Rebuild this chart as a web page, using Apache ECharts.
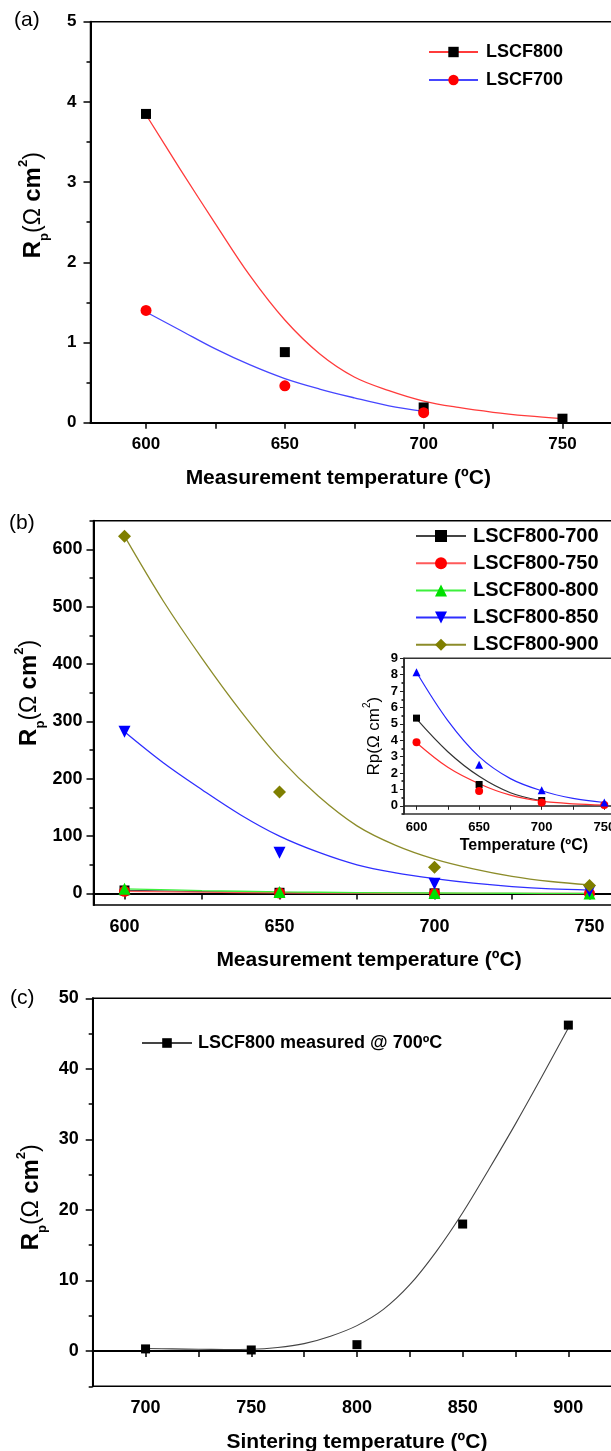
<!DOCTYPE html>
<html>
<head>
<meta charset="utf-8">
<script src="https://cdn.jsdelivr.net/npm/echarts@6/dist/echarts.min.js"></script>
<style>
  html, body { margin: 0; padding: 0; background: #fff; }
  #main { width: 611px; height: 1451px; }
</style>
</head>
<body>
<div id="main"></div>
<script>
// ---- panel (a) : measured points ----
var tempA = [600, 650, 700, 750];
var lscf800 = [3.85, 0.88, 0.19, 0.05];
var lscf700 = [1.40, 0.46, 0.125];
// fitted curves
var fitTempA = [600, 612.5, 625, 637.5, 650, 662.5, 675, 687.5, 700, 712.5, 725, 737.5, 750];
var fit800 = [3.84, 3.15, 2.48, 1.83, 1.28, 0.86, 0.57, 0.40, 0.27, 0.19, 0.13, 0.085, 0.05];
var fit700 = [1.38, 1.15, 0.92, 0.72, 0.55, 0.42, 0.31, 0.21, 0.14];

// ---- panel (b) ----
var tempB = [600, 650, 700, 750];
var s700 = [5.35, 1.3, 0.32];
var s750 = [3.88, 0.9, 0.2, 0.05];
var s800 = [8.15, 2.5, 0.95, 0.2];
var s850 = [282, 71, 17, 4];
var s900 = [623, 177, 46, 14];
var fitTempB = [600, 612.5, 625, 637.5, 650, 662.5, 675, 687.5, 700, 712.5, 725, 737.5, 750];
var fit850 = [282, 228, 181, 137, 100, 72, 50, 36, 26, 18, 12, 8, 6];
var fit900 = [623, 510, 410, 318, 236, 170, 118, 84, 60, 43, 30, 21, 15];
var fitTempS = [600, 625, 650, 675, 700, 725, 750];
var fitS700 = [5.3, 3.3, 1.8, 0.8, 0.3];
var fitS750 = [3.85, 2.35, 1.35, 0.65, 0.28, 0.12, 0.05];
var fitS800 = [8.15, 5.2, 3.0, 1.66, 0.92, 0.45, 0.2];

// ---- panel (c) ----
var tempC = [700, 750, 800, 850, 900];
var rpC = [0.3, 0.15, 0.9, 18, 46.2];
var fitTempC = [700, 712.5, 725, 737.5, 750, 762.5, 775, 787.5, 800, 812.5, 825, 837.5, 850, 862.5, 875, 887.5, 900];
var fitC = [0.35, 0.3, 0.25, 0.22, 0.25, 0.5, 1.05, 2.1, 3.6, 5.9, 9.4, 14.1, 19.6, 25.8, 32.2, 38.9, 45.8];

function pairs(xs, ys) {
	var out = [];
	for (var i = 0; i < ys.length; i++) {
		out.push([xs[i], ys[i]]);
	}
	return out;
}
function range(a, b, step) {
	var out = [];
	for (var v = a; v <= b + 1e-9; v += step) {
		out.push(Math.round(v * 100) / 100);
	}
	return out;
}

var FONT = 'Liberation Sans, Arial, sans-serif';
var SMOOTH = 0.35;

function rpName(size) {
	return {
		r: { fontSize: size, fontWeight: 'bold', fontFamily: FONT, color: '#000', lineHeight: 34 },
		s: { fontSize: 13, fontWeight: 'bold', fontFamily: FONT, color: '#000', verticalAlign: 'bottom', lineHeight: 14 },
		n: { fontSize: size - 1, fontFamily: FONT, color: '#000', lineHeight: 34 },
		u: { fontSize: 13, fontWeight: 'bold', fontFamily: FONT, color: '#000', verticalAlign: 'top', lineHeight: 14 }
	};
}

function xAxisCfg(grid, min, max, labels, ticks, name, fs, namePad) {
	return {
		type: 'value', gridIndex: grid, min: min, max: max, position: 'bottom',
		axisLine: { lineStyle: { color: '#000', width: 2 } },
		axisTick: { customValues: ticks, length: 6, lineStyle: { color: '#000', width: 1.5 } },
		axisLabel: { customValues: labels, margin: 13, color: '#000', fontSize: fs, fontWeight: 'bold', fontFamily: FONT },
		splitLine: { show: false },
		name: name, nameLocation: 'middle', nameGap: 45, nameMoveOverlap: false,
		nameTextStyle: { color: '#000', fontSize: 21, fontWeight: 'bold', fontFamily: FONT, padding: namePad }
	};
}
function minorY(grid, min, max, ticks, len) {
	return {
		type: 'value', gridIndex: grid, min: min, max: max, position: 'left',
		axisLine: { show: false }, axisLabel: { show: false }, splitLine: { show: false },
		axisTick: { show: true, customValues: ticks, length: len, lineStyle: { color: '#000', width: 1.5 } }
	};
}
// fitted curve (line) - legend icon draws its line + symbol
function fitLine(name, xi, xs, ys, sym, size, fill, stroke, rot) {
	return {
		name: name, type: 'line', xAxisIndex: xi, yAxisIndex: xi, data: pairs(xs, ys), smooth: SMOOTH,
		showSymbol: false, symbol: sym, symbolSize: size, symbolRotate: rot || 0,
		itemStyle: { color: fill, opacity: 1 }, lineStyle: { color: stroke, width: 1.3 }, z: 2
	};
}
function points(name, xi, xs, ys, sym, size, fill, rot, z) {
	return {
		name: name, type: 'scatter', xAxisIndex: xi, yAxisIndex: xi, data: pairs(xs, ys),
		symbol: sym, symbolSize: size, symbolRotate: rot || 0,
		itemStyle: { color: fill, opacity: 1 }, z: z || 3
	};
}

var option = {
	backgroundColor: '#fff',
	animation: false,
	grid: [
		{ left: 90.5, top: 21.7, width: 527.5, height: 401, show: true, borderColor: '#000', borderWidth: 1.5, outerBoundsMode: 'none' },
		{ left: 93.5, top: 520.7, width: 527, height: 384.3, show: true, borderColor: '#000', borderWidth: 1.5, outerBoundsMode: 'none' },
		{ left: 404, top: 658.3, width: 212.8, height: 155.7, show: true, backgroundColor: '#fff', borderColor: '#333', borderWidth: 1.5, z: 5, outerBoundsMode: 'none' },
		{ left: 92.7, top: 998.3, width: 528.5, height: 388, show: true, borderColor: '#000', borderWidth: 1.5, outerBoundsMode: 'none' }
	],
	xAxis: [
		xAxisCfg(0, 580, 770, [600, 650, 700, 750], range(600, 750, 25), 'Measurement temperature (ºC)', 17, [0, 32, 0, 0]),
		xAxisCfg(1, 590, 760, [600, 650, 700, 750], range(600, 750, 25), 'Measurement temperature (ºC)', 18, [0, 0, 0, 24]),
		{
			type: 'value', gridIndex: 2, min: 590, max: 760, position: 'bottom', z: 6,
			axisLine: { lineStyle: { color: '#222', width: 1.5 } },
			axisTick: { customValues: range(600, 750, 25), length: 4, lineStyle: { color: '#222' } },
			axisLabel: { customValues: [600, 650, 700, 750], margin: 7, color: '#000', fontSize: 13, fontWeight: 'bold', fontFamily: FONT },
			splitLine: { show: false },
			name: 'Temperature (ºC)', nameLocation: 'middle', nameGap: 24, nameMoveOverlap: false,
			nameTextStyle: { color: '#000', fontSize: 16, fontWeight: 'bold', fontFamily: FONT, padding: [0, 0, 0, 27] }
		},
		xAxisCfg(3, 675, 925, [700, 750, 800, 850, 900], range(700, 900, 25), 'Sintering temperature (ºC)', 18, [0, 0, 0, 0])
	],
	yAxis: [
		{
			type: 'value', gridIndex: 0, min: 0, max: 5, interval: 1, position: 'left',
			axisLine: { show: true, lineStyle: { color: '#000', width: 2 } },
			axisTick: { show: true, length: 7, lineStyle: { color: '#000', width: 1.5 } },
			minorTick: { show: true, splitNumber: 2, length: 4, lineStyle: { color: '#000', width: 1.5 } },
			axisLabel: { margin: 14, color: '#000', fontSize: 17, fontWeight: 'bold', fontFamily: FONT },
			splitLine: { show: false },
			name: '{r|R}{s|p}{n|(Ω }{r|cm}{u|2}{n|)}', nameLocation: 'middle', nameRotate: 90, nameGap: 40, nameMoveOverlap: false,
			nameTextStyle: { rich: rpName(24), padding: [0, 0, 0, 34] }
		},
		{
			type: 'value', gridIndex: 1, min: -20, max: 650, position: 'left',
			axisLine: { show: true, lineStyle: { color: '#000', width: 2 } },
			axisTick: { show: true, customValues: range(0, 600, 100), length: 7, lineStyle: { color: '#000', width: 1.5 } },
			axisLabel: { customValues: range(0, 600, 100), margin: 11, color: '#000', fontSize: 18, fontWeight: 'bold', fontFamily: FONT },
			splitLine: { show: false },
			name: '{r|R}{s|p}{n|(Ω }{r|cm}{u|2}{n|)}', nameLocation: 'middle', nameRotate: 90, nameGap: 47, nameMoveOverlap: false,
			nameTextStyle: { rich: rpName(24), padding: [0, 0, 0, 40] }
		},
		{
			type: 'value', gridIndex: 2, min: -0.5, max: 9, position: 'left', z: 6,
			axisLine: { show: true, lineStyle: { color: '#222', width: 1.5 } },
			axisTick: { show: true, customValues: range(0, 9, 1), length: 4, lineStyle: { color: '#222' } },
			axisLabel: { customValues: range(0, 9, 1), margin: 6, color: '#000', fontSize: 13, fontWeight: 'bold', fontFamily: FONT },
			splitLine: { show: false },
			name: 'Rp(Ω cm{u|2})', nameLocation: 'middle', nameRotate: 90, nameGap: 18, nameMoveOverlap: false,
			nameTextStyle: { color: '#000', fontSize: 17, fontFamily: FONT, lineHeight: 24,
				rich: { u: { fontSize: 10, fontFamily: FONT, color: '#000', verticalAlign: 'top', lineHeight: 10 } } }
		},
		{
			type: 'value', gridIndex: 3, min: -5, max: 50, position: 'left',
			axisLine: { show: true, lineStyle: { color: '#000', width: 2 } },
			axisTick: { show: true, customValues: range(0, 50, 10), length: 7, lineStyle: { color: '#000', width: 1.5 } },
			axisLabel: { customValues: range(0, 50, 10), margin: 14, color: '#000', fontSize: 18, fontWeight: 'bold', fontFamily: FONT },
			splitLine: { show: false },
			name: '{r|R}{s|p}{n|(Ω }{r|cm}{u|2}{n|)}', nameLocation: 'middle', nameRotate: 90, nameGap: 44, nameMoveOverlap: false,
			nameTextStyle: { rich: rpName(24), padding: [0, 10, 0, 0] }
		},
		minorY(1, -20, 650, range(50, 650, 100), 4),
		minorY(2, -0.5, 9, range(-0.5, 8.5, 1), 2.5),
		minorY(3, -5, 50, range(-5, 45, 10), 4)
	],
	legend: [
		{
			data: ['LSCF800', 'LSCF700'], orient: 'vertical', left: 423, top: 38,
			itemWidth: 49, itemHeight: 13, itemGap: 10,
			textStyle: { color: '#000', fontSize: 18, fontWeight: 'bold', fontFamily: FONT, lineHeight: 18, padding: [0, 0, 0, 3] }
		},
		{
			data: ['LSCF800-700', 'LSCF800-750', 'LSCF800-800', 'LSCF800-850', 'LSCF800-900'],
			orient: 'vertical', left: 410, top: 521,
			itemWidth: 50, itemHeight: 15, itemGap: 7.2,
			textStyle: { color: '#000', fontSize: 20, fontWeight: 'bold', fontFamily: FONT, lineHeight: 20, padding: [0, 0, 0, 2] }
		},
		{
			data: ['LSCF800 measured @ 700ºC'], orient: 'vertical', left: 136, top: 1029,
			itemWidth: 50, itemHeight: 12,
			textStyle: { color: '#000', fontSize: 18, fontWeight: 'bold', fontFamily: FONT, lineHeight: 18, padding: [0, 0, 0, 1] }
		}
	],
	graphic: [
		{ type: 'text', left: 14, top: 10, style: { text: '(a)', font: '21px Liberation Sans', fill: '#000' } },
		{ type: 'text', left: 9, top: 513, style: { text: '(b)', font: '21px Liberation Sans', fill: '#000' } },
		{ type: 'text', left: 10, top: 988, style: { text: '(c)', font: '21px Liberation Sans', fill: '#000' } }
	],
	series: [
		// panel (a)
		fitLine('LSCF800', 0, fitTempA, fit800, 'rect', 10, '#000', '#ff3b3b'),
		fitLine('LSCF700', 0, fitTempA, fit700, 'circle', 11, '#ff0000', '#4646ff'),
		points('LSCF800 data', 0, tempA, lscf800, 'rect', 10, '#000'),
		points('LSCF700 data', 0, tempA, lscf700, 'circle', 11, '#ff0000', 0, 4),

		// panel (b)
		fitLine('LSCF800-700', 1, fitTempS, fitS700, 'rect', 10, '#000', '#444'),
		fitLine('LSCF800-750', 1, fitTempS, fitS750, 'circle', 11, '#ff0000', '#ff5a5a'),
		fitLine('LSCF800-800', 1, fitTempS, fitS800, 'triangle', 12, '#00e000', '#3cf03c'),
		fitLine('LSCF800-850', 1, fitTempB, fit850, 'triangle', 12, '#0000ff', '#2f2fff', 180),
		fitLine('LSCF800-900', 1, fitTempB, fit900, 'diamond', 13, '#7f7f00', '#8c8c2a'),
		points('b700 data', 1, tempB, s700, 'rect', 10, '#000'),
		points('b750 data', 1, tempB, s750, 'circle', 11, '#ff0000'),
		points('b800 data', 1, tempB, s800, 'triangle', 12, '#00e000', 0, 4),
		points('b850 data', 1, tempB, s850, 'triangle', 12, '#0000ff', 180, 4),
		points('b900 data', 1, tempB, s900, 'diamond', 13, '#7f7f00', 0, 4),

		// inset of (b)
		{ name: 'in700', type: 'line', xAxisIndex: 2, yAxisIndex: 2, data: pairs(fitTempS, fitS700), smooth: SMOOTH,
			showSymbol: false, lineStyle: { color: '#333', width: 1.2 }, z: 6 },
		{ name: 'in750', type: 'line', xAxisIndex: 2, yAxisIndex: 2, data: pairs(fitTempS, fitS750), smooth: SMOOTH,
			showSymbol: false, lineStyle: { color: '#ff3030', width: 1.2 }, z: 6 },
		{ name: 'in800', type: 'line', xAxisIndex: 2, yAxisIndex: 2, data: pairs(fitTempS, fitS800), smooth: SMOOTH,
			showSymbol: false, lineStyle: { color: '#2a2aff', width: 1.2 }, z: 6 },
		points('in700 data', 2, tempB, s700, 'rect', 7, '#000', 0, 7),
		points('in750 data', 2, tempB, s750, 'circle', 8, '#ff0000', 0, 7),
		points('in800 data', 2, tempB, s800, 'triangle', 8, '#0000ff', 0, 7),

		// panel (c)
		{ name: 'LSCF800 measured @ 700ºC', type: 'line', xAxisIndex: 3, yAxisIndex: 3, data: pairs(fitTempC, fitC), smooth: SMOOTH,
			showSymbol: false, symbol: 'rect', symbolSize: 10, itemStyle: { color: '#000', opacity: 1 }, lineStyle: { color: '#444', width: 1.1 } },
		points('c data', 3, tempC, rpC, 'rect', 9, '#000')
	]
};

var myChart = echarts.init(document.getElementById('main'), null, { renderer: 'canvas' });
myChart.setOption(option);
</script>
</body>
</html>
